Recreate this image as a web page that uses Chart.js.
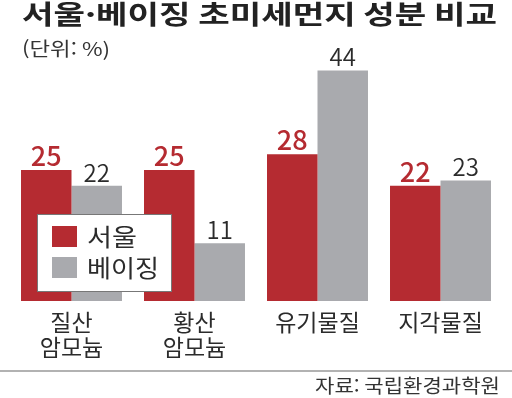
<!DOCTYPE html>
<html lang="ko">
<head>
  <meta charset="UTF-8">
  <title>서울·베이징 초미세먼지 성분 비교</title>
  <script src="https://cdn.jsdelivr.net/npm/chart.js"></script>
  <style>
    html, body {
      margin: 0;
      padding: 0;
      background: #fff;
    }
    #wrap {
      width: 512px;
      height: 398px;
      position: relative;
    }
  </style>
</head>
<body>

<div id="wrap">
  <canvas id="dustChart" width="512" height="398"></canvas>
</div>

<script>
  // 데이터
  const categories = [['질산', '암모늄'], ['황산', '암모늄'], ['유기물질'], ['지각물질']];
  const seoulValues = [25, 25, 28, 22];
  const beijingValues = [22, 11, 44, 23];
  const seriesNames = ['서울', '베이징'];

  const RED = '#b52b31';
  const GRAY = '#a9aaae';
  const FONT = "'Noto Sans CJK KR', 'Noto Sans', sans-serif";

  // 글자를 가로로 늘려서 목표 폭에 맞춤
  function wideText(ctx, text, x, y, width, align) {
    const w = ctx.measureText(text).width;
    const sx = width / w;
    ctx.save();
    ctx.textAlign = 'left';
    const left = align === 'right' ? x - width : x;
    ctx.translate(left, y);
    ctx.scale(sx, 1);
    ctx.fillText(text, 0, 0);
    ctx.restore();
  }

  // 제목, 범례, 값 라벨, 출처
  const decorPlugin = {
    id: 'decor',
    afterDatasetsDraw(chart) {
      const ctx = chart.ctx;
      ctx.save();

      // 값 라벨
      chart.data.datasets.forEach((ds, i) => {
        const meta = chart.getDatasetMeta(i);
        meta.data.forEach((bar, j) => {
          ctx.textAlign = 'center';
          ctx.textBaseline = 'alphabetic';
          if (i === 0) {
            ctx.font = '500 27px ' + FONT;
            ctx.fillStyle = RED;
          } else {
            ctx.font = '350 24px ' + FONT;
            ctx.fillStyle = '#2b2b2b';
          }
          ctx.fillText(String(ds.data[j]), bar.x, bar.y - 4);
        });
      });

      // 범례
      ctx.fillStyle = '#fff';
      ctx.fillRect(37, 214, 134, 77);
      ctx.strokeStyle = '#777';
      ctx.lineWidth = 1;
      ctx.strokeRect(37.5, 214.5, 134, 77);
      chart.data.datasets.forEach((ds, i) => {
        const y = 226 + i * 31;
        ctx.fillStyle = ds.backgroundColor;
        ctx.fillRect(52, y, 25, 21);
        ctx.fillStyle = '#2b2b2b';
        ctx.font = '24px ' + FONT;
        ctx.textBaseline = 'middle';
        wideText(ctx, ds.label, 87, y + 11, i === 0 ? 50 : 72, 'left');
      });

      // 제목
      ctx.textBaseline = 'alphabetic';
      ctx.fillStyle = '#222';
      ctx.font = 'bold 26px ' + FONT;
      wideText(ctx, '서울·베이징 초미세먼지 성분 비교', 22, 24, 475, 'left');
      ctx.font = '19px ' + FONT;
      ctx.fillStyle = '#333';
      wideText(ctx, '(단위: %)', 22, 56, 88, 'left');

      // 구분선, 출처
      ctx.strokeStyle = '#999';
      ctx.lineWidth = 1.5;
      ctx.beginPath();
      ctx.moveTo(0, 371);
      ctx.lineTo(512, 371);
      ctx.stroke();
      ctx.font = '19px ' + FONT;
      ctx.fillStyle = '#333';
      wideText(ctx, '자료: 국립환경과학원', 500, 393, 185, 'right');

      ctx.restore();
    }
  };

  const ctx = document.getElementById('dustChart').getContext('2d');

  new Chart(ctx, {
    type: 'bar',
    data: {
      labels: categories,
      datasets: [
        {
          label: seriesNames[0],
          data: seoulValues,
          backgroundColor: RED,
          borderWidth: 0,
          barPercentage: 1,
          categoryPercentage: 0.821
        },
        {
          label: seriesNames[1],
          data: beijingValues,
          backgroundColor: GRAY,
          borderWidth: 0,
          barPercentage: 1,
          categoryPercentage: 0.821
        }
      ]
    },
    options: {
      responsive: false,
      animation: false,
      layout: {
        padding: { top: 39, left: 10, right: 10, bottom: 0 }
      },
      plugins: {
        legend: { display: false },
        tooltip: { enabled: false }
      },
      scales: {
        x: {
          grid: { display: false, drawTicks: false },
          border: { display: false },
          ticks: {
            padding: 9,
            color: '#2b2b2b',
            font: { family: FONT, size: 23, lineHeight: 1.08 }
          },
          afterFit: s => { s.height = 97; }
        },
        y: {
          display: false,
          min: 0,
          max: 50
        }
      }
    },
    plugins: [decorPlugin]
  });
</script>

</body>
</html>
